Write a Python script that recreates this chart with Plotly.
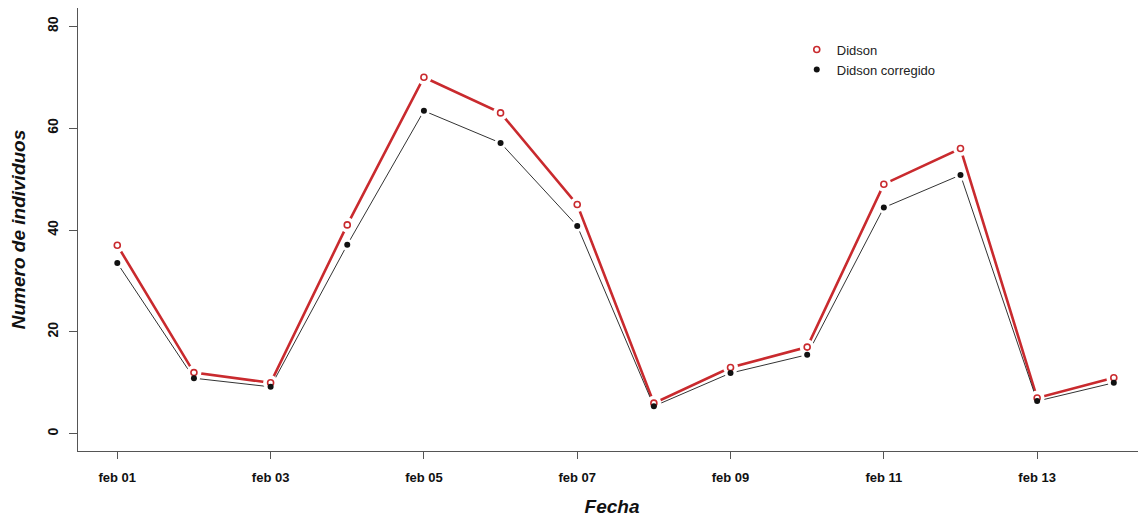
import plotly.graph_objects as go
import pandas as pd

# ---- data ----
dates = ["2013-02-01", "2013-02-02", "2013-02-03", "2013-02-04", "2013-02-05",
         "2013-02-06", "2013-02-07", "2013-02-08", "2013-02-09", "2013-02-10",
         "2013-02-11", "2013-02-12", "2013-02-13", "2013-02-14"]
didson = [37, 12, 10, 41, 70, 63, 45, 6, 13, 17, 49, 56, 7, 11]
didson_corr = [33.5, 10.9, 9.2, 37.1, 63.4, 57.1, 40.8, 5.4, 11.9, 15.5, 44.4, 50.8, 6.4, 10.0]
tick_dates = ["2013-02-01", "2013-02-03", "2013-02-05", "2013-02-07",
              "2013-02-09", "2013-02-11", "2013-02-13"]
tick_labels = ["feb 01", "feb 03", "feb 05", "feb 07", "feb 09", "feb 11", "feb 13"]
y_ticks = [0, 20, 40, 60, 80]

RED = "#C92A2E"
BLACK = "#111111"
FONT = "Liberation Sans, Arial, sans-serif"

fig = go.Figure()

# lines
fig.add_trace(go.Scatter(x=dates, y=didson, mode="lines", showlegend=False,
                         line=dict(color=RED, width=2.6), hoverinfo="skip"))
fig.add_trace(go.Scatter(x=dates, y=didson_corr, mode="lines", showlegend=False,
                         line=dict(color="#333333", width=1), hoverinfo="skip"))
# white halos (gaps around points, like R type="b")
fig.add_trace(go.Scatter(x=dates, y=didson, mode="markers", showlegend=False,
                         marker=dict(color="white", size=15), hoverinfo="skip"))
fig.add_trace(go.Scatter(x=dates, y=didson_corr, mode="markers", showlegend=False,
                         marker=dict(color="white", size=12), hoverinfo="skip"))
# points
fig.add_trace(go.Scatter(x=dates, y=didson, mode="markers", name="Didson",
                         marker=dict(symbol="circle-open", color=RED, size=6,
                                     line=dict(width=1.6, color=RED))))
fig.add_trace(go.Scatter(x=dates, y=didson_corr, mode="markers", name="Didson corregido",
                         marker=dict(symbol="circle", color=BLACK, size=6)))

start = pd.Timestamp(dates[0])
x_range = [start - pd.Timedelta(hours=12.3), start + pd.Timedelta(days=13.42)]

# the page body has an 8px margin, so the figure is sized to fit the window
fig.update_layout(
    width=1138, height=509,
    margin=dict(l=70, r=0, t=0, b=66),
    paper_bgcolor="white", plot_bgcolor="white",
    font=dict(family=FONT, color="#111111"),
    legend=dict(x=0.673, y=0.94, xanchor="left", yanchor="top",
                font=dict(size=13, family=FONT, color="#222222"),
                bgcolor="rgba(0,0,0,0)", tracegroupgap=0),
    xaxis=dict(
        type="date", range=x_range, automargin=False,
        tickmode="array", tickvals=tick_dates, ticktext=tick_labels,
        tickfont=dict(size=13, family=FONT, weight="bold", color="#111111"),
        ticks="outside", ticklen=7, tickcolor="#555555", tickwidth=1,
        ticklabelstandoff=7,
        showline=True, linecolor="#555555", linewidth=1,
        showgrid=False, zeroline=False,
        title=dict(text="Fecha", standoff=18,
                   font=dict(size=19, family=FONT, weight="bold", style="italic", color="#111111")),
    ),
    yaxis=dict(
        range=[-3.4, 83.6], automargin=False,
        tickmode="array", tickvals=y_ticks,
        tickangle=-90,
        tickfont=dict(size=14, family=FONT, weight="bold", color="#111111"),
        ticks="outside", ticklen=8, tickcolor="#555555", tickwidth=1,
        ticklabelstandoff=5,
        showline=True, linecolor="#555555", linewidth=1,
        showgrid=False, zeroline=False,
        title=dict(text="Numero de individuos", standoff=14,
                   font=dict(size=19, family=FONT, weight="bold", style="italic", color="#111111")),
    ),
)

fig.write_html("out.html")
